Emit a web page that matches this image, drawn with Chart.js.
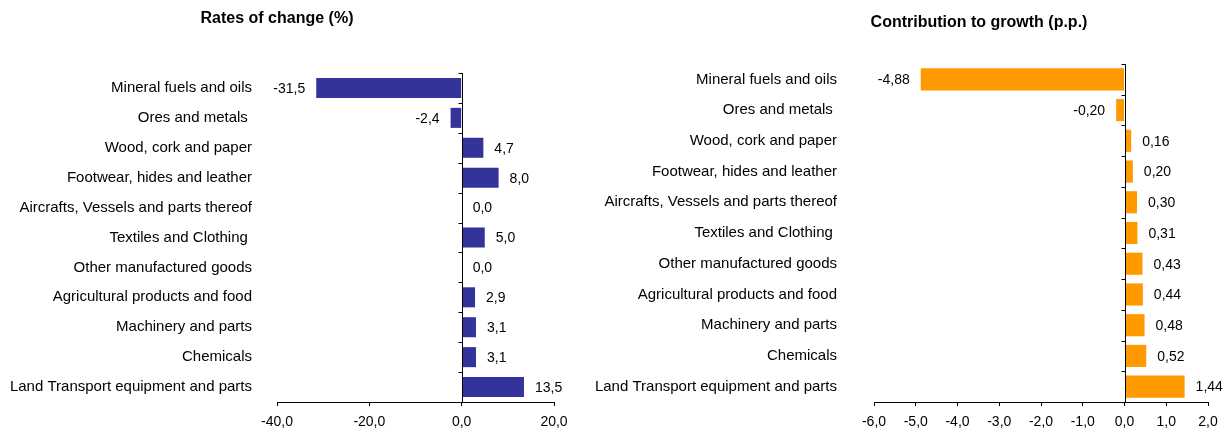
<!DOCTYPE html>
<html><head><meta charset="utf-8">
<script src="https://cdn.jsdelivr.net/npm/chart.js@4.4.0/dist/chart.umd.min.js"></script>
<style>
body{margin:0;background:#fff;width:1230px;height:432px;position:relative;overflow:hidden;font-family:"Liberation Sans",Arial,sans-serif}
.t{position:absolute;font-weight:bold;font-size:16px;color:#000;white-space:nowrap;transform:translate(-50%,-50%)}
#w1{position:absolute;left:0;top:0;width:580px;height:432px}
#w2{position:absolute;left:580px;top:0;width:650px;height:432px}
</style></head><body>
<div id="w1"><canvas id="c1"></canvas></div>
<div id="w2"><canvas id="c2"></canvas></div>
<div class="t" style="left:277px;top:18px">Rates of change (%)</div>
<div class="t" style="left:979px;top:22px">Contribution to growth (p.p.)</div>
<script>
const categories = ["Mineral fuels and oils","Ores and metals ","Wood, cork and paper","Footwear, hides and leather","Aircrafts, Vessels and parts thereof","Textiles and Clothing ","Other manufactured goods","Agricultural products and food","Machinery and parts","Chemicals","Land Transport equipment and parts"];
const ratesOfChange = [-31.5,-2.4,4.7,8.0,0.0,5.0,0.0,2.9,3.1,3.1,13.5];
const contribution = [-4.88,-0.20,0.16,0.20,0.30,0.31,0.43,0.44,0.48,0.52,1.44];
const rateTicks = [-40,-20,0,20];
const contribTicks = [-6,-5,-4,-3,-2,-1,0,1,2];

Chart.defaults.font.family = '"Liberation Sans", Arial, sans-serif';
Chart.defaults.color = '#000';

function fmt(v,d){ return v.toFixed(d).replace('.',','); }

const zeroAxis = {
  id:'zeroAxis',
  afterDatasetsDraw(chart){
    const ctx=chart.ctx, xs=chart.scales.x, ys=chart.scales.y;
    const x0=Math.round(xs.getPixelForValue(0))+0.5;
    const n=ys.ticks.length;
    ctx.save();
    ctx.strokeStyle='#000'; ctx.lineWidth=1;
    ctx.beginPath();
    ctx.moveTo(x0,ys.top); ctx.lineTo(x0,ys.bottom);
    for(let i=0;i<n;i++){
      const yy=Math.round(ys.top+i*(ys.bottom-ys.top)/n)+0.5;
      ctx.moveTo(x0-4,yy); ctx.lineTo(x0,yy);
    }
    ctx.stroke();
    ctx.restore();
  }
};
const valueLabels = {
  id:'valueLabels',
  afterDatasetsDraw(chart,args,opts){
    const ctx=chart.ctx, meta=chart.getDatasetMeta(0), vals=chart.data.datasets[0].data;
    ctx.save();
    ctx.font='14px "Liberation Sans", Arial, sans-serif';
    ctx.fillStyle='#000'; ctx.textBaseline='middle';
    meta.data.forEach((bar,i)=>{
      const v=vals[i];
      if(v<0){ ctx.textAlign='right'; ctx.fillText(fmt(v,opts.dec),bar.x-11,bar.y+1); }
      else { ctx.textAlign='left'; ctx.fillText(fmt(v,opts.dec),bar.x+11,bar.y+1); }
    });
    ctx.restore();
  }
};

function make(id, values, color, tickVals, dec, leftW, labelPad, rightPad, top, barPct){
  return new Chart(document.getElementById(id), {
    type:'bar',
    data:{labels:categories, datasets:[{data:values, backgroundColor:color, borderWidth:0, barPercentage:barPct, categoryPercentage:1}]},
    options:{
      indexAxis:'y', responsive:true, maintainAspectRatio:false, animation:false, devicePixelRatio:1,
      layout:{padding:{top:top,right:rightPad,bottom:0,left:0}},
      plugins:{legend:{display:false}, tooltip:{enabled:false}, title:{display:false}, valueLabels:{dec:dec}},
      scales:{
        x:{min:tickVals[0], max:tickVals[tickVals.length-1],
           afterBuildTicks:s=>{ s.ticks = tickVals.map(v=>({value:v})); },
           ticks:{font:{size:14}, color:'#000', padding:8, maxRotation:0, autoSkip:false, callback:v=>fmt(v,1)},
           grid:{drawOnChartArea:false, drawTicks:true, tickLength:4, color:'#000', lineWidth:1},
           border:{display:true, color:'#000', width:1},
           afterFit:s=>{ s.height=30; }},
        y:{ticks:{font:{size:15}, color:'#000', padding:labelPad, autoSkip:false},
           grid:{display:false, drawTicks:false},
           border:{display:false},
           afterFit:s=>{ s.width=leftW; s.paddingTop=0; s.paddingBottom=0; }}
      }
    },
    plugins:[zeroAxis, valueLabels]
  });
}
make('c1', ratesOfChange, '#333399', rateTicks, 1, 277, 25, 26, 73, 0.67);
make('c2', contribution, '#FF9900', contribTicks, 2, 294, 37, 22, 64, 0.72);
</script>
</body></html>
